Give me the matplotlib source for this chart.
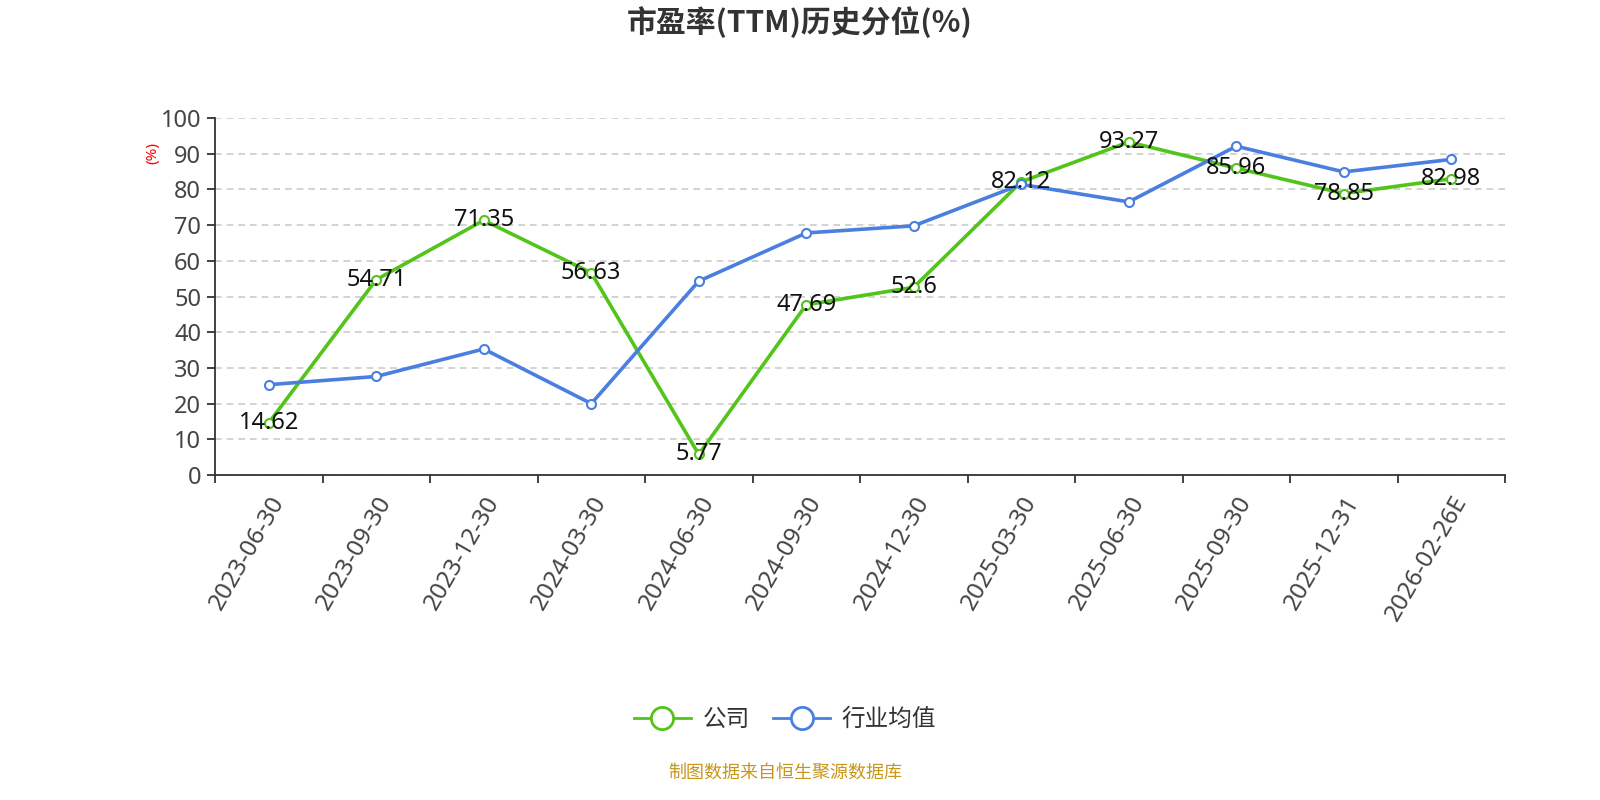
import numpy as np
import matplotlib.pyplot as plt
from matplotlib.lines import Line2D

plt.rcParams['font.family'] = ['Noto Sans', 'Noto Sans CJK SC', 'DejaVu Sans']

dates = ["2023-06-30", "2023-09-30", "2023-12-30", "2024-03-30", "2024-06-30",
         "2024-09-30", "2024-12-30", "2025-03-30", "2025-06-30", "2025-09-30",
         "2025-12-31", "2026-02-26E"]
company = [14.62, 54.71, 71.35, 56.63, 5.77, 47.69, 52.6, 82.12, 93.27, 85.96, 78.85, 82.98]
industry = [25.3, 27.6, 35.3, 20.0, 54.3, 67.8, 69.8, 81.4, 76.5, 92.1, 84.9, 88.4]
company_labels = ["14.62", "54.71", "71.35", "56.63", "5.77", "47.69", "52.6",
                  "82.12", "93.27", "85.96", "78.85", "82.98"]

green = "#52c41a"
blue = "#4a7fe0"
axis_c = "#333333"

fig = plt.figure(figsize=(16, 8), dpi=100)
ax = fig.add_axes([215 / 1600, 1 - 475 / 800, 1290 / 1600, 357 / 800])

x = np.arange(len(dates))
ax.plot(x, company, color=green, lw=2.6, marker="o", ms=6.5, mfc="white",
        mec=green, mew=1.5, zorder=3)
ax.plot(x, industry, color=blue, lw=2.6, marker="o", ms=6.5, mfc="white",
        mec=blue, mew=1.5, zorder=3)
for xi, v, lab in zip(x, company, company_labels):
    ax.text(xi, v, lab, ha="center", va="center", fontsize=17, color="#111111", zorder=4)

ax.set_xlim(-0.5, len(dates) - 0.5)
ax.set_ylim(0, 100)
ax.set_yticks(range(0, 101, 10))
ax.yaxis.grid(True, ls=(0, (4, 3)), color="#cccccc", lw=1.2)
ax.set_axisbelow(True)

ax.set_xticks(np.arange(len(dates) + 1) - 0.5)
ax.set_xticklabels([])
ax.set_xticks(x, minor=True)
ax.set_xticklabels(dates, minor=True, rotation=60, ha="right",
                   rotation_mode="anchor", fontsize=17.5, color="#444444")
ax.tick_params(axis="x", which="minor", length=0, pad=12)
ax.tick_params(axis="x", which="major", length=6, width=1.3, color=axis_c)
ax.tick_params(axis="y", length=6, width=1.3, color=axis_c, labelsize=17,
               labelcolor="#444444", pad=4)

for s in ["top", "right"]:
    ax.spines[s].set_visible(False)
for s in ["left", "bottom"]:
    ax.spines[s].set_color(axis_c)
    ax.spines[s].set_linewidth(1.3)

fig.text(153 / 1600, 1 - 153 / 800, "(%)", color="red", fontsize=11,
         rotation=90, ha="center", va="center")

fig.text(0.5, 1 - 22 / 800, "市盈率(TTM)历史分位(%)", ha="center", va="center",
         fontsize=21.5, fontweight="bold", color="#333333",
         family=["Noto Sans CJK SC", "DejaVu Sans"])

handles = [Line2D([], [], color=green, lw=2, marker="o", ms=16, mfc="white", mew=2),
           Line2D([], [], color=blue, lw=2, marker="o", ms=16, mfc="white", mew=2)]
fig.legend(handles, ["公司", "行业均值"], loc="center", bbox_to_anchor=(785 / 1600, 1 - 720 / 800),
           ncol=2, frameon=False, fontsize=17, handlelength=2.4, columnspacing=1.0,
           handletextpad=0.5, labelcolor="#333333")

fig.text(785 / 1600, 1 - 773 / 800, "制图数据来自恒生聚源数据库", ha="center", va="center",
         fontsize=13, color="#c9961a")

fig.savefig("out.png", dpi=100)
